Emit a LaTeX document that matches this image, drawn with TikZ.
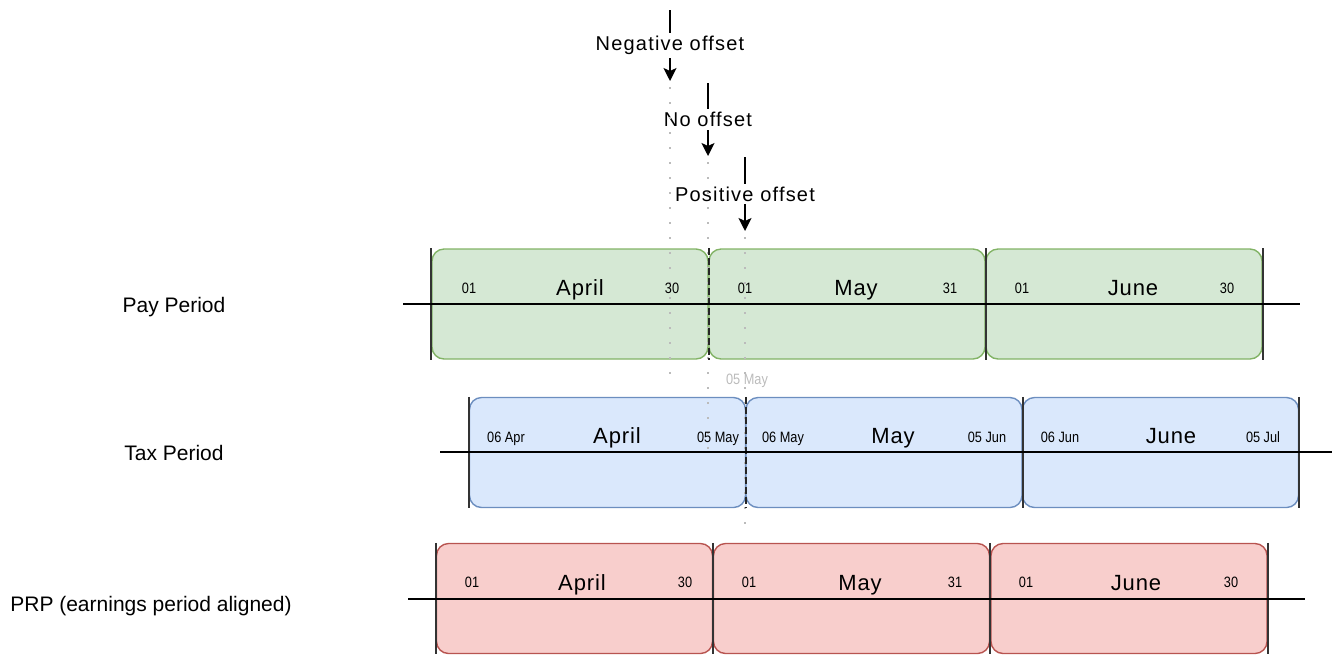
\documentclass[tikz,border=0pt]{standalone}
\usepackage{fontspec}
\setmainfont{Liberation Sans}
\newfontfamily\dayfont{Liberation Sans}[FakeStretch=0.85]
\usetikzlibrary{arrows.meta}

\definecolor{payfill}{HTML}{D5E8D4}
\definecolor{payline}{HTML}{82B366}
\definecolor{taxfill}{HTML}{DAE8FC}
\definecolor{taxline}{HTML}{6C8EBF}
\definecolor{prpfill}{HTML}{F8CECC}
\definecolor{prpline}{HTML}{B85450}
\definecolor{guide}{HTML}{BBBBBB}

\tikzset{
  period/.style={draw, rounded corners=6pt, line width=0.7pt, minimum width=138pt, minimum height=55pt, inner sep=0pt},
  paybox/.style={period, draw=payline, fill=payfill},
  taxbox/.style={period, draw=taxline, fill=taxfill},
  prpbox/.style={period, draw=prpline, fill=prpfill},
  bar/.style={draw=black!80, line width=1pt},
  cut/.style={draw=black!85, line width=1pt, dash pattern=on 3.5pt off 1.5pt},
  axis/.style={draw=black, line width=0.8pt},
  guideline/.style={draw=guide, line width=1pt, dash pattern=on 1pt off 6.5pt},
  offset/.style={draw=black, line width=0.8pt, -{Stealth[length=6.5pt, width=6.5pt, inset=1.5pt]}},
  rowname/.style={font=\fontsize{10.5}{12}\selectfont, inner sep=0pt, anchor=base},
  month/.style={font=\fontsize{11}{13}\selectfont\addfontfeature{LetterSpace=4}, inner sep=0pt, anchor=base},
  day/.style={font=\dayfont\fontsize{7.5}{9}\selectfont, inner sep=0pt, anchor=base},
  tag/.style={font=\fontsize{10}{12}\selectfont\addfontfeature{LetterSpace=6}, fill=white, inner sep=1.5pt}
}

\begin{document}
\begin{tikzpicture}[x=0.5pt,y=-0.5pt]
\useasboundingbox (0,0) rectangle (1332,655);

% row names
\node[rowname] (payname) at (174,312) {Pay Period};
\node[rowname] (taxname) at (174,460) {Tax Period};
\node[rowname] (prpname) at (151,611) {PRP (earnings period aligned)};

% period boxes
\node[paybox] (payA) at (570,304) {};
\node[paybox] (payM) at (847,304) {};
\node[paybox] (payJ) at (1124,304) {};
\node[taxbox] (taxA) at (607.5,452.5) {};
\node[taxbox] (taxM) at (884,452.5) {};
\node[taxbox] (taxJ) at (1160.5,452.5) {};
\node[prpbox] (prpA) at (574.5,598.5) {};
\node[prpbox] (prpM) at (851.5,598.5) {};
\node[prpbox] (prpJ) at (1129,598.5) {};

% offset markers
\coordinate (negtop) at (670,10);
\coordinate (negend) at (670,81);
\coordinate (notop) at (708,83);
\coordinate (noend) at (708,156);
\coordinate (postop) at (745,157);
\coordinate (posend) at (745,231);
\draw[offset] (negtop) -- (negend) node[tag, midway] (negtag) {Negative offset};
\draw[offset] (notop) -- (noend) node[tag, midway] (notag) {No offset};
\draw[offset] (postop) -- (posend) node[tag, midway] (postag) {Positive offset};

% guides below the markers
\coordinate (negfoot) at (670,380);
\coordinate (nofoot) at (708,458);
\coordinate (posfoot) at (745,530);
\draw[guideline] ([yshift=-3pt]negend) -- (negfoot);
\draw[guideline] ([yshift=-3pt]noend) -- (nofoot);
\draw[guideline] ([yshift=-3pt]posend) -- (posfoot);
\node[day, text=guide] (shiftday) at (747,384) {05 May};

% period edges
\draw[bar] (payA.north west) -- (payA.south west);
\draw[cut] (payA.north east) -- (payA.south east);
\draw[bar] (payM.north east) -- (payM.south east);
\draw[bar] (payJ.north east) -- (payJ.south east);
\draw[bar] (taxA.north west) -- (taxA.south west);
\draw[cut] (taxA.north east) -- (taxA.south east);
\draw[bar] (taxM.north east) -- (taxM.south east);
\draw[bar] (taxJ.north east) -- (taxJ.south east);
\draw[bar] (prpA.north west) -- (prpA.south west);
\draw[bar] (prpA.north east) -- (prpA.south east);
\draw[bar] (prpM.north east) -- (prpM.south east);
\draw[bar] (prpJ.north east) -- (prpJ.south east);

% time lines
\coordinate (payL) at (403,304);
\coordinate (payR) at (1300,304);
\coordinate (taxL) at (440,452);
\coordinate (taxR) at (1332,452);
\coordinate (prpL) at (408,599);
\coordinate (prpR) at (1305,599);
\draw[axis] (payL) -- (payR);
\draw[axis] (taxL) -- (taxR);
\draw[axis] (prpL) -- (prpR);

% pay period labels
\node[month] (payAname) at (580,295) {April};
\node[month] (payMname) at (856,295) {May};
\node[month] (payJname) at (1133,295) {June};
\foreach \x/\d [count=\i] in {469/01, 672/30, 745/01, 950/31, 1022/01, 1227/30}
  \node[day] (payday\i) at (\x,293) {\d};

% tax period labels
\node[month] (taxAname) at (617,443) {April};
\node[month] (taxMname) at (893,443) {May};
\node[month] (taxJname) at (1171,443) {June};
\foreach \x/\d [count=\i] in {506/06 Apr, 718/05 May, 783/06 May, 987/05 Jun, 1060/06 Jun, 1263/05 Jul}
  \node[day] (taxday\i) at (\x,442) {\d};

% prp labels
\node[month] (prpAname) at (582,590) {April};
\node[month] (prpMname) at (860,590) {May};
\node[month] (prpJname) at (1136,590) {June};
\foreach \x/\d [count=\i] in {472/01, 685/30, 749/01, 955/31, 1026/01, 1231/30}
  \node[day] (prpday\i) at (\x,587) {\d};
\end{tikzpicture}
\end{document}
